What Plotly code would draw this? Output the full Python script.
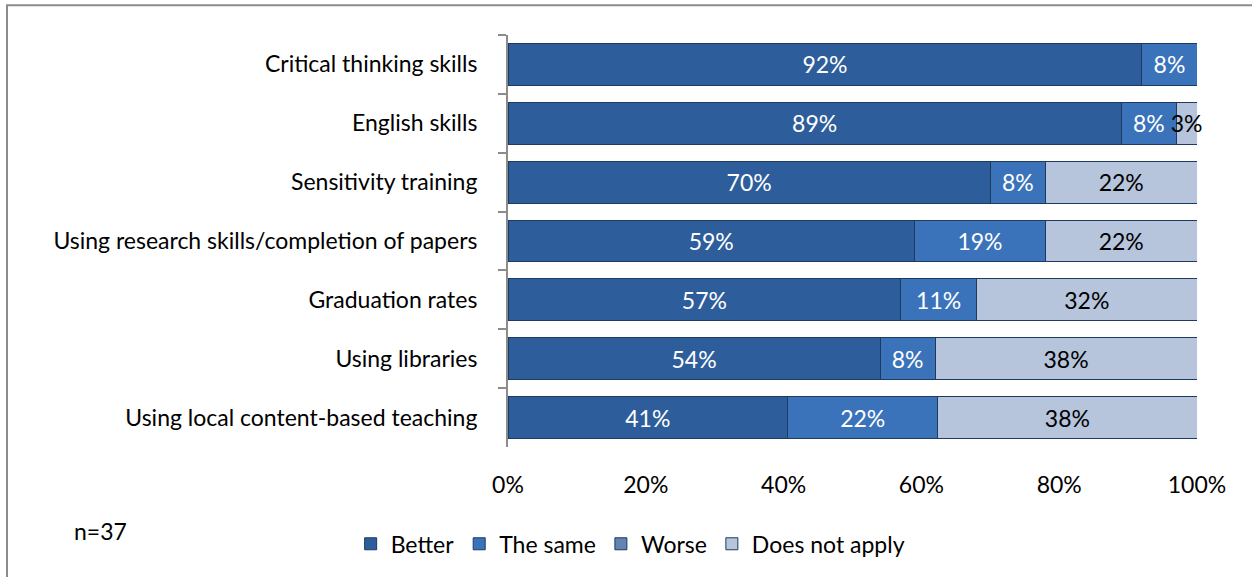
import plotly.graph_objects as go

# Survey responses (percent of respondents), n=37
categories = [
    "Critical thinking skills",
    "English skills",
    "Sensitivity training",
    "Using research skills/completion of papers",
    "Graduation rates",
    "Using libraries",
    "Using local content-based teaching",
]
better = [92, 89, 70, 59, 57, 54, 41]
the_same = [8, 8, 8, 19, 11, 8, 22]
worse = [0, 0, 0, 0, 0, 0, 0]
does_not_apply = [0, 3, 22, 22, 32, 38, 38]

series = [
    ("Better", better, "#2E5D9B", "white"),
    ("The same", the_same, "#3A73BA", "white"),
    ("Worse", worse, "#6482B2", "black"),
    ("Does not apply", does_not_apply, "#B6C4DC", "black"),
]

FONT = "Lato"
FS = 23
fig = go.Figure()
for name, vals, color, tcolor in series:
    fig.add_trace(go.Bar(
        name=name,
        y=categories,
        x=vals,
        orientation="h",
        marker=dict(color=color, line=dict(color="#1E3A5F", width=1)),
        text=[f"{v}%" if v else "" for v in vals],
        textposition="inside",
        insidetextanchor="middle",
        textangle=0,
        cliponaxis=False,
        textfont=dict(color=tcolor, size=FS, family=FONT),
        hoverinfo="x+y+name",
    ))

fig.update_layout(
    barmode="stack",
    barnorm="percent",
    bargap=0.29,
    width=1252,
    height=577,
    margin=dict(l=508, r=55, t=35, b=127),
    paper_bgcolor="white",
    plot_bgcolor="white",
    font=dict(family=FONT, size=FS, color="black"),
    uniformtext=dict(minsize=FS, mode="show"),
    legend=dict(
        orientation="h",
        x=0.178, xanchor="center",
        y=-0.235, yanchor="middle",
        font=dict(size=FS, family=FONT),
        traceorder="normal",
        itemwidth=30,
    ),
    showlegend=True,
    xaxis=dict(
        range=[0, 100],
        tickvals=[0, 20, 40, 60, 80, 100],
        ticktext=["0%", "20%", "40%", "60%", "80%", "100%"],
        showgrid=False,
        zeroline=False,
        showline=False,
        ticks="",
        ticklabelstandoff=22,
        tickfont=dict(size=FS, family=FONT),
    ),
    yaxis=dict(
        autorange="reversed",
        showline=True,
        linecolor="#8C8C8C",
        linewidth=2,
        ticks="outside",
        tickson="boundaries",
        ticklen=8,
        tickcolor="#8C8C8C",
        tickwidth=2,
        showgrid=False,
        ticklabelstandoff=24,
        tickfont=dict(size=FS, family=FONT),
    ),
    shapes=[
        # outer chart frame
        dict(type="rect", xref="paper", yref="paper",
             x0=(7 - 508) / 689, x1=(1258 - 508) / 689,
             y0=-(135 / 415), y1=1 + 30 / 415,
             line=dict(color="#8C8C8C", width=2), fillcolor="rgba(0,0,0,0)",
             layer="below"),
    ],
    annotations=[
        dict(text="n=37", xref="paper", yref="paper",
             x=(100 - 508) / 689, y=-(85 / 415),
             xanchor="center", yanchor="middle", showarrow=False,
             font=dict(size=FS, family=FONT)),
    ],
)

fig.write_html("out.html")
